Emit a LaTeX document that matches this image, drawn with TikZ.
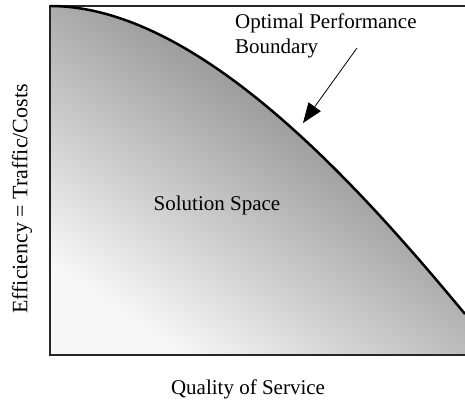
\documentclass[tikz,border=0pt]{standalone}
\usepackage{fontspec}
\setmainfont{Liberation Serif}
\usetikzlibrary{arrows.meta}
\begin{document}
\begin{tikzpicture}[x=1pt,y=-1pt,
  lbl/.style={font=\fontsize{21}{25}\selectfont, inner sep=0pt},
  axisline/.style={line width=2pt, black!85},
  boundary/.style={line width=2.5pt, black},
  pointer/.style={line width=0.8pt, -{Triangle[length=20pt,width=15pt]}}]
\useasboundingbox (0,0) rectangle (465,402);
% solution space
\shade[top color=black!55, bottom color=black!3, shading angle=-35]
  (50,355) -- (50,6) .. controls (200,6) and (362,190) .. (465,314) -- (465,355) -- cycle;
% frame lines
\draw[line width=1.2pt, black!85] (50,6) -- (465,6);
\draw[axisline] (50,5) -- (50,356);
\draw[axisline] (49,355) -- (465,355);
% boundary curve
\draw[boundary] (50,6) .. controls (200,6) and (362,190) .. (465,314);
% labels
\node[lbl, anchor=base west] (opt1) at (235,28) {Optimal Performance};
\node[lbl, anchor=base west] (opt2) at (235,53) {Boundary};
\node[lbl] (space) at (217,205) {Solution Space};
\node[lbl] (xlab) at (248,389) {Quality of Service};
\node[lbl, font=\fontsize{22}{26}\selectfont, rotate=90] (ylab) at (22,199) {Efficiency = Traffic/Costs};
% pointer
\coordinate (pstart) at (357,48);
\coordinate (ptip) at (303,123);
\draw[pointer] (pstart) -- (ptip);
\end{tikzpicture}
\end{document}
